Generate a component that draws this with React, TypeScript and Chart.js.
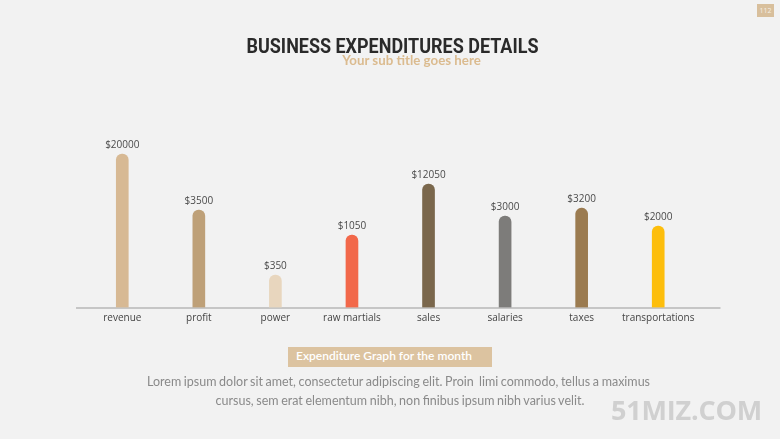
import React, { useEffect, useLayoutEffect, useRef } from "react";
import { Chart, registerables } from "chart.js";

Chart.register(...registerables);

const categories = ["revenue", "profit", "power", "raw martials", "sales", "salaries", "taxes", "transportations"];
const valueLabels = ["$20000", "$3500", "$350", "$1050", "$12050", "$3000", "$3200", "$2000"];
// bar heights as drawn in the picture (display units)
const barHeights = [153.5, 97.5, 32.5, 72.5, 123.5, 91.5, 99.3, 81.5];
const barColors = ["#d7b994", "#bea078", "#e8d6be", "#f2684a", "#7a674c", "#7d7c7a", "#9b7b50", "#fdbe0c"];
const yMax = 160;

const decorPlugin = {
  id: "decor",
  beforeDatasetsDraw(chart: any) {
    const { ctx, chartArea } = chart;
    ctx.save();
    ctx.strokeStyle = "#c6c6c6";
    ctx.lineWidth = 2;
    ctx.beginPath();
    ctx.moveTo(chartArea.left - 8, chartArea.bottom + 0.5);
    ctx.lineTo(chartArea.right + 24, chartArea.bottom + 0.5);
    ctx.stroke();
    ctx.restore();
  },
  afterDatasetsDraw(chart: any) {
    const { ctx } = chart;
    const meta = chart.getDatasetMeta(0);
    ctx.save();
    ctx.font = "10px 'Open Sans'";
    ctx.fillStyle = "#4a4a4a";
    ctx.textAlign = "center";
    ctx.textBaseline = "alphabetic";
    meta.data.forEach((el: any, i: number) => {
      ctx.fillText(valueLabels[i], el.x, el.y - 6.5);
    });
    ctx.restore();
  },
};

export default function App() {
  const canvasRef = useRef<HTMLCanvasElement | null>(null);
  const titleRef = useRef<HTMLSpanElement | null>(null);

  useLayoutEffect(() => {
    const t = titleRef.current;
    if (!t) return;
    const w = t.getBoundingClientRect().width;
    if (w > 0) t.style.transform = `scaleX(${292 / w})`;
  }, []);

  useEffect(() => {
    if (!canvasRef.current) return;
    const chart = new Chart(canvasRef.current, {
      type: "bar",
      data: {
        labels: categories,
        datasets: [
          {
            data: barHeights,
            backgroundColor: barColors,
            barThickness: 12,
            borderRadius: 6,
            borderSkipped: "bottom",
          },
        ],
      },
      options: {
        responsive: false,
        animation: false,
        devicePixelRatio: 1,
        layout: { padding: { left: 84, right: 83.5, top: 147.5, bottom: 106.5 } },
        plugins: { legend: { display: false }, tooltip: { enabled: false } },
        scales: {
          x: {
            grid: { display: false, drawTicks: false },
            border: { display: false },
            ticks: {
              font: { family: "'Open Sans'", size: 10 },
              color: "#444444",
              padding: 5,
              maxRotation: 0,
              autoSkip: false,
            },
            afterFit: (s: any) => {
              s.height = 25;
            },
          },
          y: { display: false, min: 0, max: yMax },
        },
      },
      plugins: [decorPlugin],
    });
    return () => chart.destroy();
  }, []);

  return (
    <div
      style={{
        position: "fixed",
        left: 0,
        top: 0,
        width: 780,
        height: 439,
        background: "#f2f2f2",
        overflow: "hidden",
      }}
    >
      <canvas ref={canvasRef} width={780} height={439} style={{ position: "absolute", left: 0, top: 0, width: 780, height: 439 }} />
      <div
        style={{
          position: "absolute",
          left: 757,
          top: 4,
          width: 17,
          height: 13,
          background: "#d8bf9c",
          color: "#f6efe4",
          fontFamily: "'Open Sans'",
          fontSize: 7,
          lineHeight: "13px",
          textAlign: "center",
        }}
      >
        112
      </div>
      <div
        style={{
          position: "absolute",
          left: 0,
          top: 35.5,
          width: 784,
          textAlign: "center",
          whiteSpace: "nowrap",
        }}
      >
        <span
          ref={titleRef}
          style={{
            display: "inline-block",
            transformOrigin: "50% 50%",
            fontFamily: "Roboto",
            fontWeight: "bold",
            fontSize: 20,
            lineHeight: "20px",
            color: "#2a2a2a",
          }}
        >
          BUSINESS EXPENDITURES DETAILS
        </span>
      </div>
      <div
        style={{
          position: "absolute",
          left: 0,
          top: 54.3,
          width: 823,
          textAlign: "center",
          fontFamily: "Lato",
          fontWeight: "bold",
          fontSize: 13.3,
          lineHeight: "13px",
          color: "#dbbb8f",
          whiteSpace: "nowrap",
        }}
      >
        Your sub title goes here
      </div>
      <div
        style={{
          position: "absolute",
          left: 288,
          top: 347,
          width: 204,
          height: 20,
          background: "#dcc3a0",
        }}
      />
      <div
        style={{
          position: "absolute",
          left: 296,
          top: 349,
          fontFamily: "Lato",
          fontWeight: 600,
          fontSize: 12,
          lineHeight: "14px",
          color: "#ffffff",
          whiteSpace: "nowrap",
        }}
      >
        Expenditure Graph for the month
      </div>
      <div
        style={{
          position: "absolute",
          left: 0,
          top: 374.5,
          width: 797,
          textAlign: "center",
          fontFamily: "Lato",
          fontSize: 12.5,
          wordSpacing: -0.6,
          lineHeight: "14px",
          color: "#8a8a8a",
          whiteSpace: "nowrap",
        }}
      >
        Lorem ipsum dolor sit amet, consectetur adipiscing elit. Proin&nbsp; limi commodo, tellus a maximus
      </div>
      <div
        style={{
          position: "absolute",
          left: 0,
          top: 394,
          width: 800,
          textAlign: "center",
          fontFamily: "Lato",
          fontSize: 12.5,
          wordSpacing: -0.6,
          lineHeight: "14px",
          color: "#8a8a8a",
          whiteSpace: "nowrap",
        }}
      >
        cursus, sem erat elementum nibh, non finibus ipsum nibh varius velit.
      </div>
      <div
        style={{
          position: "absolute",
          left: 611,
          top: 396,
          fontFamily: "'Open Sans'",
          fontWeight: "bold",
          fontSize: 27,
          lineHeight: "27px",
          letterSpacing: -0.2,
          color: "#d0d0d0",
          whiteSpace: "nowrap",
        }}
      >
        51MIZ.COM
      </div>
    </div>
  );
}
